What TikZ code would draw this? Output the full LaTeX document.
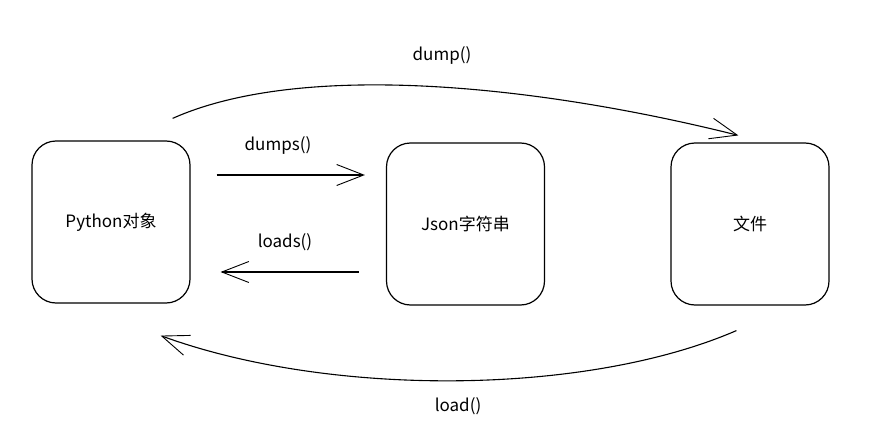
\documentclass[tikz,border=0pt]{standalone}
\usepackage{fontspec}
\setmainfont{Noto Sans CJK SC}
\usetikzlibrary{arrows.meta}
\tikzset{
  box/.style={draw,line width=1.2pt,rounded corners=24pt,minimum width=158pt,minimum height=162pt,font=\fontsize{17}{20}\selectfont},
  conn/.style={line width=1.1pt,-{Straight Barb[length=27pt,width=21pt,line width=0.9pt]}},
  lbl/.style={font=\fontsize{17}{20}\selectfont}
}
\begin{document}
\begin{tikzpicture}[x=1pt,y=-1pt]
\useasboundingbox (0,0) rectangle (879,444);
\node[box] (py) at (111,222) {Python对象};
\node[box] (json) at (465.5,224) {Json字符串};
\node[box] (file) at (750,224) {文件};
\draw[conn] ([shift={(26,-47)}]py.east) -- ([shift={(-21,-49)}]json.west);
\draw[conn] ([shift={(-27,48)}]json.west) -- ([shift={(30,50)}]py.east);
\draw[conn] ([shift={(-18,-22)}]py.north east) .. controls +(130,-58) and +(-200,-50) .. ([shift={(68,-7)}]file.north west);
\draw[conn] ([shift={(66,25)}]file.south west) .. controls +(-150,65) and +(170,62) .. ([shift={(-30,32)}]py.south east);
\node[lbl] (dumpslbl) at (278,145) {dumps()};
\node[lbl] (loadslbl) at (285,242) {loads()};
\node[lbl] (dumplbl) at (442,55) {dump()};
\node[lbl] (loadlbl) at (458,406) {load()};
\end{tikzpicture}
\end{document}
